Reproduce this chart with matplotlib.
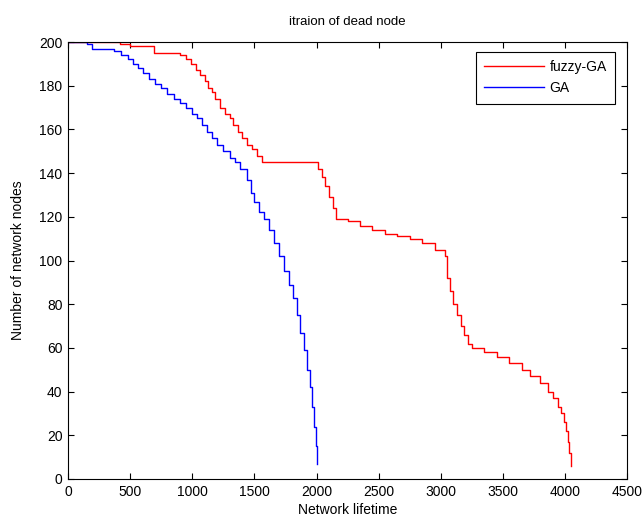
import matplotlib
matplotlib.use('Agg')
import matplotlib.pyplot as plt

plt.rc('font', family=['Liberation Sans', 'DejaVu Sans'], size=10)

# fuzzy-GA: dead-node staircase (lifetime, alive nodes)
fuzzy_x = [0, 420, 500, 690, 900, 950, 990, 1030, 1060, 1100, 1130, 1160, 1185,
           1220, 1260, 1300, 1330, 1370, 1400, 1440, 1480, 1520, 1560, 2010, 2040,
           2070, 2100, 2130, 2160, 2250, 2350, 2450, 2550, 2650, 2750, 2850, 2950,
           3030, 3050, 3070, 3100, 3130, 3160, 3190, 3220, 3250, 3350, 3450, 3550,
           3650, 3720, 3800, 3860, 3900, 3940, 3970, 3990, 4010, 4025, 4035, 4045]
fuzzy_y = [200, 199, 198, 195, 194, 192, 190, 187, 185, 182, 179, 177, 174,
           170, 167, 165, 162, 159, 156, 153, 151, 148, 145, 142, 138,
           134, 129, 124, 119, 118, 116, 114, 112, 111, 110, 108, 105,
           102, 92, 86, 80, 75, 70, 66, 62, 60, 58, 56, 53,
           50, 47, 44, 40, 37, 33, 30, 26, 22, 17, 12, 6]

# GA
ga_x = [0, 150, 190, 370, 430, 480, 520, 560, 600, 650, 700, 750, 800, 850, 900,
        950, 1000, 1040, 1080, 1120, 1160, 1200, 1250, 1300, 1340, 1380, 1440,
        1470, 1500, 1540, 1580, 1620, 1660, 1700, 1740, 1780, 1810, 1840, 1870,
        1900, 1925, 1945, 1965, 1980, 1995, 2005]
ga_y = [200, 199, 197, 196, 194, 192, 190, 188, 186, 183, 181, 179, 176, 174, 172,
        170, 167, 165, 162, 159, 156, 153, 150, 147, 145, 142, 137,
        131, 127, 122, 119, 114, 108, 102, 95, 89, 83, 75, 67,
        59, 50, 42, 33, 24, 15, 7]

fig = plt.figure(figsize=(6.42, 5.22), dpi=100)
ax = fig.add_axes([0.106, 0.0824, 0.871, 0.8371])
ax.plot(fuzzy_x, fuzzy_y, color='red', lw=1, drawstyle='steps-post', label='fuzzy-GA')
ax.plot(ga_x, ga_y, color='blue', lw=1, drawstyle='steps-post', label='GA')

ax.set_xlim(0, 4500)
ax.set_ylim(0, 200)
ax.set_xticks(range(0, 4501, 500))
ax.set_yticks(range(0, 201, 20))
ax.tick_params(direction='in', top=True, right=True, length=4, pad=4)
ax.set_title('itraion of dead node', fontsize=9.5, pad=12)
ax.set_xlabel('Network lifetime', labelpad=3)
ax.set_ylabel('Number of network nodes', labelpad=10)
leg = ax.legend(loc='upper right', fancybox=False, framealpha=1, edgecolor='black',
                handlelength=4.3, handletextpad=0.4, borderpad=0.6,
                labelspacing=0.5, bbox_to_anchor=(0.991, 0.993))
leg.get_frame().set_linewidth(0.8)

fig.savefig('out.png', dpi=100)
